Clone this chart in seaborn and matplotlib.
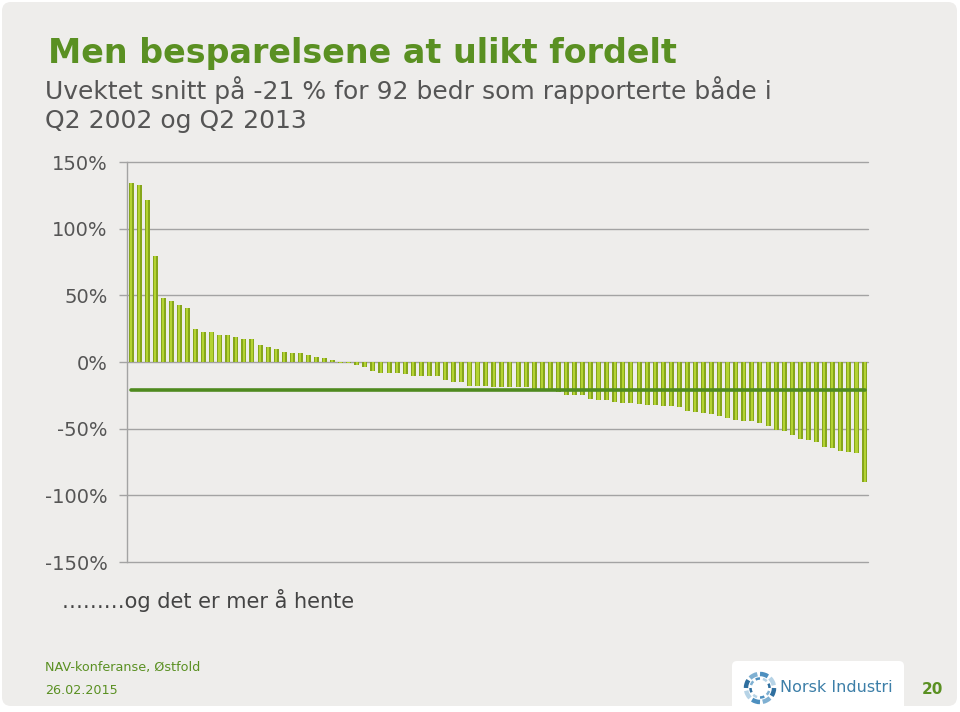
import numpy as np
import pandas as pd
import matplotlib
matplotlib.use("Agg")
import matplotlib.pyplot as plt
import seaborn as sns
from matplotlib.patches import FancyBboxPatch, Rectangle, Arc

# ---------------- data ----------------
companies = list(range(1, 93))
change_pct = [
    134, 132.7, 121.5, 79.5, 47.7, 45.7, 42.7, 40.7, 24.7, 22.7, 22.7, 20.2, 20.2,
    18.5, 17.5, 17, 12.7, 11.5, 9.5, 7.5, 7, 6.5, 5, 4, 2.7, 1.5,
    -0.5, -1, -2, -4, -7, -8, -8, -8, -9, -10.5, -10.5, -10.5, -10.5, -13.5, -15,
    -15, -18, -18, -18, -18.5,
    -18.5, -18.5, -19, -19, -21, -21, -21, -22.7, -24.7, -24.7, -24.7, -28, -28.5,
    -28.5, -29.7, -30.5, -30.5, -31.5, -32.2, -32.2, -33, -33, -33.5, -36.5,
    -37.2, -38, -39, -40.5, -42.2, -43.5, -44, -44.2, -46, -48, -51, -51.5, -54.7,
    -58, -58.5, -59.7, -64, -64.7, -66.7, -67.2, -68, -89.7,
]
mean_pct = -21
y_ticks = [-150, -100, -50, 0, 50, 100, 150]
y_tick_labels = ["-150%", "-100%", "-50%", "0%", "50%", "100%", "150%"]

title = "Men besparelsene at ulikt fordelt"
subtitle_1 = "Uvektet snitt på -21 % for 92 bedr som rapporterte både i"
subtitle_2 = "Q2 2002 og Q2 2013"
note = "………og det er mer å hente"
footer_1 = "NAV-konferanse, Østfold"
footer_2 = "26.02.2015"
page_no = "20"
logo_text = "Norsk Industri"

df = pd.DataFrame({"company": companies, "change": change_pct})
df["pos"] = np.arange(len(df))
df["mean"] = mean_pct

# ---------------- figure ----------------
sns.set_theme(style="white")
plt.rcParams["font.family"] = ["DejaVu Sans"]

W, H = 960, 712
fig = plt.figure(figsize=(W / 100, H / 100), dpi=100)
fig.patch.set_facecolor("white")

# background canvas in pixel coordinates
bg = fig.add_axes([0, 0, 1, 1], zorder=0)
bg.set_xlim(0, W)
bg.set_ylim(H, 0)
bg.axis("off")
bg.add_patch(FancyBboxPatch((2, 2), 955, 704, boxstyle="round,pad=0,rounding_size=9",
                            fc="#eeedeb", ec="none"))
bg.add_patch(FancyBboxPatch((732, 661), 172, 60, boxstyle="round,pad=0,rounding_size=5",
                            fc="white", ec="none"))

# logo swirl
cx, cy = 760, 688
cols = ["#2f6f9f", "#7fb0d2", "#4d8fbf", "#b6d3e6"]
for i in range(8):
    a0 = i * 45
    bg.add_patch(Arc((cx, cy), 28, 28, theta1=a0, theta2=a0 + 34,
                     lw=3.2, color=cols[i % 4]))
    bg.add_patch(Arc((cx, cy), 19, 19, theta1=a0 + 18, theta2=a0 + 45,
                     lw=1.8, color=cols[(i + 1) % 4]))

bg.text(48, 54, title, fontsize=24, fontweight="bold", color="#5a9022",
        va="center", ha="left")
bg.text(45, 90, subtitle_1, fontsize=18, color="#555555", va="center", ha="left")
bg.text(45, 121, subtitle_2, fontsize=18, color="#555555", va="center", ha="left")
bg.text(62, 600, note, fontsize=15, color="#444444", va="center", ha="left")
bg.text(45, 668, footer_1, fontsize=9.2, color="#5a9022", va="center", ha="left")
bg.text(45, 690, footer_2, fontsize=9.2, color="#5a9022", va="center", ha="left")
bg.text(922, 690, page_no, fontsize=11, fontweight="bold", color="#5a9022",
        va="center", ha="left")
bg.text(780, 688, logo_text, fontsize=11.5, color="#3d7fa8", va="center", ha="left")

# chart axes
ax = fig.add_axes([127 / W, 1 - 562 / H, (868 - 127) / W, 400 / H], zorder=2)
ax.set_facecolor("none")

sns.barplot(data=df, x="pos", y="change", ax=ax, color="#86a61c", saturation=1,
            width=0.62, edgecolor="none", linewidth=0, zorder=3,
            order=list(df["pos"]))
# cylinder highlight on each bar
for p in list(ax.patches):
    x0, w = p.get_x(), p.get_width()
    y0, h = p.get_y(), p.get_height()
    ax.add_patch(Rectangle((x0 + w * 0.25, y0), w * 0.42, h, fc="#b4d333",
                           ec="none", zorder=4))

sns.lineplot(data=df, x="pos", y="mean", ax=ax, color="#4f8a1f", lw=2.6, zorder=5)

ax.set_xlim(-0.5, 91.4)
ax.set_ylim(-150, 150)
ax.set_yticks(y_ticks)
ax.set_yticklabels(y_tick_labels)
ax.set_xticks([])
ax.set_xlabel("")
ax.set_ylabel("")
ax.yaxis.grid(True, color="#a3a3a3", lw=1)
for gl in ax.get_ygridlines():
    gl.set_clip_on(False)
ax.set_axisbelow(True)
ax.tick_params(axis="y", length=6, width=1, color="#a3a3a3", labelsize=14,
               labelcolor="#555555", pad=8, left=True)
for s in ["top", "right", "bottom"]:
    ax.spines[s].set_visible(False)
ax.spines["left"].set_color("#a3a3a3")
ax.spines["left"].set_linewidth(1)
if ax.get_legend():
    ax.get_legend().remove()

fig.savefig("out.png", dpi=100, facecolor=fig.get_facecolor())
